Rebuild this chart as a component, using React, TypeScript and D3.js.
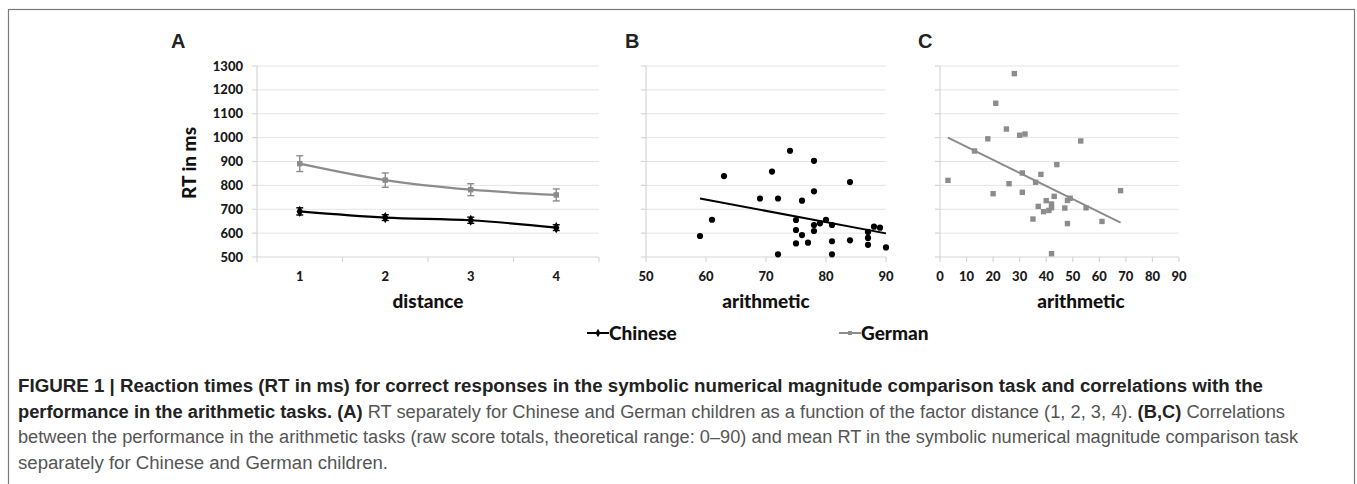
import React from 'react';
import * as d3 from 'd3';

// panel A: mean RT by distance
const distances = ['1', '2', '3', '4'];
const chineseRT = [691, 665, 654, 623];
const chineseErr = [15, 12, 13, 12];
const germanRT = [891, 822, 782, 760];
const germanErr = [33, 30, 25, 25];

// panel B: Chinese children, arithmetic score vs RT
const chineseArith = [59, 61, 63, 69, 71, 72, 72, 74, 75, 75, 75, 76, 76, 77, 78, 78, 78, 78, 79, 80, 81, 81, 81, 84, 84, 87, 87, 87, 88, 89, 90];
const chineseScatterRT = [588, 656, 839, 745, 858, 745, 511, 945, 655, 613, 557, 736, 592, 560, 903, 775, 634, 609, 641, 656, 634, 566, 511, 814, 570, 605, 580, 551, 627, 623, 540];
const chineseTrend = [[59, 745], [90, 599]];

// panel C: German children, arithmetic score vs RT
const germanArith = [3, 13, 18, 21, 20, 25, 26, 28, 30, 32, 31, 31, 35, 36, 37, 38, 39, 40, 41, 42, 42, 42, 43, 44, 47, 48, 48, 49, 53, 55, 61, 68];
const germanScatterRT = [821, 944, 995, 1144, 765, 1036, 807, 1268, 1010, 1015, 852, 771, 659, 813, 712, 846, 690, 736, 695, 722, 706, 514, 754, 887, 705, 737, 640, 746, 986, 706, 649, 778];
const germanTrend = [[3, 1000], [68, 644]];

const rtTicks = [500, 600, 700, 800, 900, 1000, 1100, 1200, 1300];
const arithTicksB = [50, 60, 70, 80, 90];
const arithTicksC = [0, 10, 20, 30, 40, 50, 60, 70, 80, 90];

const GRAY = '#8c8c8c';
const GRID = '#e4e4e4';
const AXIS = '#d6d6d6';
const LABEL_FONT = 'Lato, "Open Sans", sans-serif';
const CAP_FONT = '"Liberation Sans", Arial, sans-serif';

const top = 66;
const bottom = 257;
const y = d3.scaleLinear().domain([500, 1300]).range([bottom, top]);

function Frame({ x0, x1, ticksX, labels, showY }: { x0: number; x1: number; ticksX: number[]; labels: { x: number; t: string }[]; showY: boolean }) {
  return (
    <g>
      {rtTicks.slice(1).map((t) => (
        <line key={'g' + t} x1={x0} x2={x1} y1={y(t)} y2={y(t)} stroke={GRID} strokeWidth={1} />
      ))}
      <line x1={x0} x2={x0} y1={top} y2={bottom} stroke={AXIS} strokeWidth={1.2} />
      <line x1={x0} x2={x1} y1={bottom} y2={bottom} stroke={AXIS} strokeWidth={1.2} />
      {rtTicks.map((t) => (
        <line key={'yt' + t} x1={x0 - 5} x2={x0} y1={y(t)} y2={y(t)} stroke={AXIS} strokeWidth={1.2} />
      ))}
      {ticksX.map((t, i) => (
        <line key={'xt' + i} x1={t} x2={t} y1={bottom} y2={bottom + 5} stroke={AXIS} strokeWidth={1.2} />
      ))}
      {labels.map((l, i) => (
        <text key={'xl' + i} x={l.x} y={281} textAnchor="middle" fontFamily={LABEL_FONT} fontWeight={900} fontSize={13} fill="#1a1a1a">
          {l.t}
        </text>
      ))}
      {showY &&
        rtTicks.map((t) => (
          <text key={'yl' + t} x={x0 - 14} y={y(t) + 4.5} textAnchor="end" fontFamily={LABEL_FONT} fontWeight={900} fontSize={13} fill="#1a1a1a">
            {t}
          </text>
        ))}
    </g>
  );
}

export default function App() {
  const xA = d3.scaleBand<string>().domain(distances).range([257, 599]);
  const cx = (d: string) => (xA(d) as number) + xA.bandwidth() / 2;
  const xB = d3.scaleLinear().domain([50, 90]).range([646, 886]);
  const xC = d3.scaleLinear().domain([0, 90]).range([940, 1179]);

  const lineA = d3
    .line<number>()
    .x((_, i) => cx(distances[i]))
    .y((v) => y(v))
    .curve(d3.curveMonotoneX);
  const trend = d3
    .line<number[]>()
    .y((d) => y(d[1]));

  const diamond = d3.symbol().type(d3.symbolDiamond).size(36)();
  const square = d3.symbol().type(d3.symbolSquare).size(30)();

  const aTicks = [...distances.map((d) => xA(d) as number), 599];

  const errBar = (i: number, v: number, e: number, color: string) => {
    const x = cx(distances[i]);
    return (
      <g key={color + i} stroke={color} strokeWidth={1.4}>
        <line x1={x} x2={x} y1={y(v - e)} y2={y(v + e)} />
        <line x1={x - 3.5} x2={x + 3.5} y1={y(v - e)} y2={y(v - e)} />
        <line x1={x - 3.5} x2={x + 3.5} y1={y(v + e)} y2={y(v + e)} />
      </g>
    );
  };

  return (
    <svg width={1357} height={484} style={{ position: 'absolute', left: 0, top: 0 }}>
      <rect x={0} y={0} width={1357} height={484} fill="#fff" />
      <rect x={8.5} y={9.5} width={1346} height={490} fill="none" stroke="#7a7a7a" strokeWidth={1.2} />

      {/* panel letters */}
      <text x={171} y={48} fontFamily={CAP_FONT} fontWeight={700} fontSize={20} fill="#222">A</text>
      <text x={625} y={48} fontFamily={CAP_FONT} fontWeight={700} fontSize={20} fill="#222">B</text>
      <text x={918} y={48} fontFamily={CAP_FONT} fontWeight={700} fontSize={20} fill="#222">C</text>

      {/* panel A */}
      <Frame x0={257} x1={599} ticksX={aTicks} labels={distances.map((d) => ({ x: cx(d), t: d }))} showY={true} />
      <text transform="translate(196,163) rotate(-90)" textAnchor="middle" fontFamily={LABEL_FONT} fontWeight={900} fontSize={19} fill="#111">
        RT in ms
      </text>
      <text x={428} y={308} textAnchor="middle" fontFamily={LABEL_FONT} fontWeight={900} fontSize={19} fill="#111">
        distance
      </text>
      <path d={lineA(germanRT) || ''} fill="none" stroke={GRAY} strokeWidth={2.2} />
      {germanRT.map((v, i) => errBar(i, v, germanErr[i], GRAY))}
      {germanRT.map((v, i) => (
        <path key={'gm' + i} d={square || ''} transform={`translate(${cx(distances[i])},${y(v)})`} fill={GRAY} />
      ))}
      <path d={lineA(chineseRT) || ''} fill="none" stroke="#000" strokeWidth={2.2} />
      {chineseRT.map((v, i) => errBar(i, v, chineseErr[i], '#000'))}
      {chineseRT.map((v, i) => (
        <path key={'cm' + i} d={diamond || ''} transform={`translate(${cx(distances[i])},${y(v)})`} fill="#000" />
      ))}

      {/* panel B */}
      <Frame x0={646} x1={886} ticksX={arithTicksB.map((t) => xB(t))} labels={arithTicksB.map((t) => ({ x: xB(t), t: String(t) }))} showY={false} />
      <text x={766} y={308} textAnchor="middle" fontFamily={LABEL_FONT} fontWeight={900} fontSize={19} fill="#111">
        arithmetic
      </text>
      <path d={trend.x((d) => xB(d[0]))(chineseTrend) || ''} fill="none" stroke="#000" strokeWidth={2} />
      {chineseArith.map((a, i) => (
        <circle key={'b' + i} cx={xB(a)} cy={y(chineseScatterRT[i])} r={3.1} fill="#000" />
      ))}

      {/* panel C */}
      <Frame x0={940} x1={1179} ticksX={arithTicksC.map((t) => xC(t))} labels={arithTicksC.map((t) => ({ x: xC(t), t: String(t) }))} showY={false} />
      <text x={1081} y={308} textAnchor="middle" fontFamily={LABEL_FONT} fontWeight={900} fontSize={19} fill="#111">
        arithmetic
      </text>
      <path d={trend.x((d) => xC(d[0]))(germanTrend) || ''} fill="none" stroke={GRAY} strokeWidth={2} />
      {germanArith.map((a, i) => (
        <rect key={'c' + i} x={xC(a) - 2.7} y={y(germanScatterRT[i]) - 2.7} width={5.4} height={5.4} fill={GRAY} />
      ))}

      {/* legend */}
      <g>
        <line x1={587} x2={609} y1={333} y2={333} stroke="#000" strokeWidth={2} />
        <path d={d3.symbol().type(d3.symbolDiamond).size(20)() || ''} transform="translate(598,333)" fill="#000" />
        <text x={609} y={339.5} fontFamily={LABEL_FONT} fontWeight={900} fontSize={19} fill="#111">Chinese</text>
        <line x1={839} x2={861} y1={333} y2={333} stroke={GRAY} strokeWidth={2} />
        <path d={d3.symbol().type(d3.symbolSquare).size(16)() || ''} transform="translate(850,333)" fill={GRAY} />
        <text x={861} y={339.5} fontFamily={LABEL_FONT} fontWeight={900} fontSize={19} fill="#111">German</text>
      </g>

      {/* caption */}
      <g fontFamily={CAP_FONT} fontSize={18}>
        <text x={18} y={392} textLength={1245} lengthAdjust="spacingAndGlyphs" fontWeight={700} fill="#222">
          FIGURE 1 | Reaction times (RT in ms) for correct responses in the symbolic numerical magnitude comparison task and correlations with the
        </text>
        <text x={18} y={417.5} textLength={1267} lengthAdjust="spacingAndGlyphs" fill="#555">
          <tspan fontWeight={700} fill="#222">performance in the arithmetic tasks. (A)</tspan>
          <tspan> RT separately for Chinese and German children as a function of the factor distance (1, 2, 3, 4). </tspan>
          <tspan fontWeight={700} fill="#222">(B,C)</tspan>
          <tspan> Correlations</tspan>
        </text>
        <text x={18} y={443} textLength={1280} lengthAdjust="spacingAndGlyphs" fill="#555">
          between the performance in the arithmetic tasks (raw score totals, theoretical range: 0–90) and mean RT in the symbolic numerical magnitude comparison task
        </text>
        <text x={18} y={468.5} textLength={370} lengthAdjust="spacingAndGlyphs" fill="#555">
          separately for Chinese and German children.
        </text>
      </g>
    </svg>
  );
}
